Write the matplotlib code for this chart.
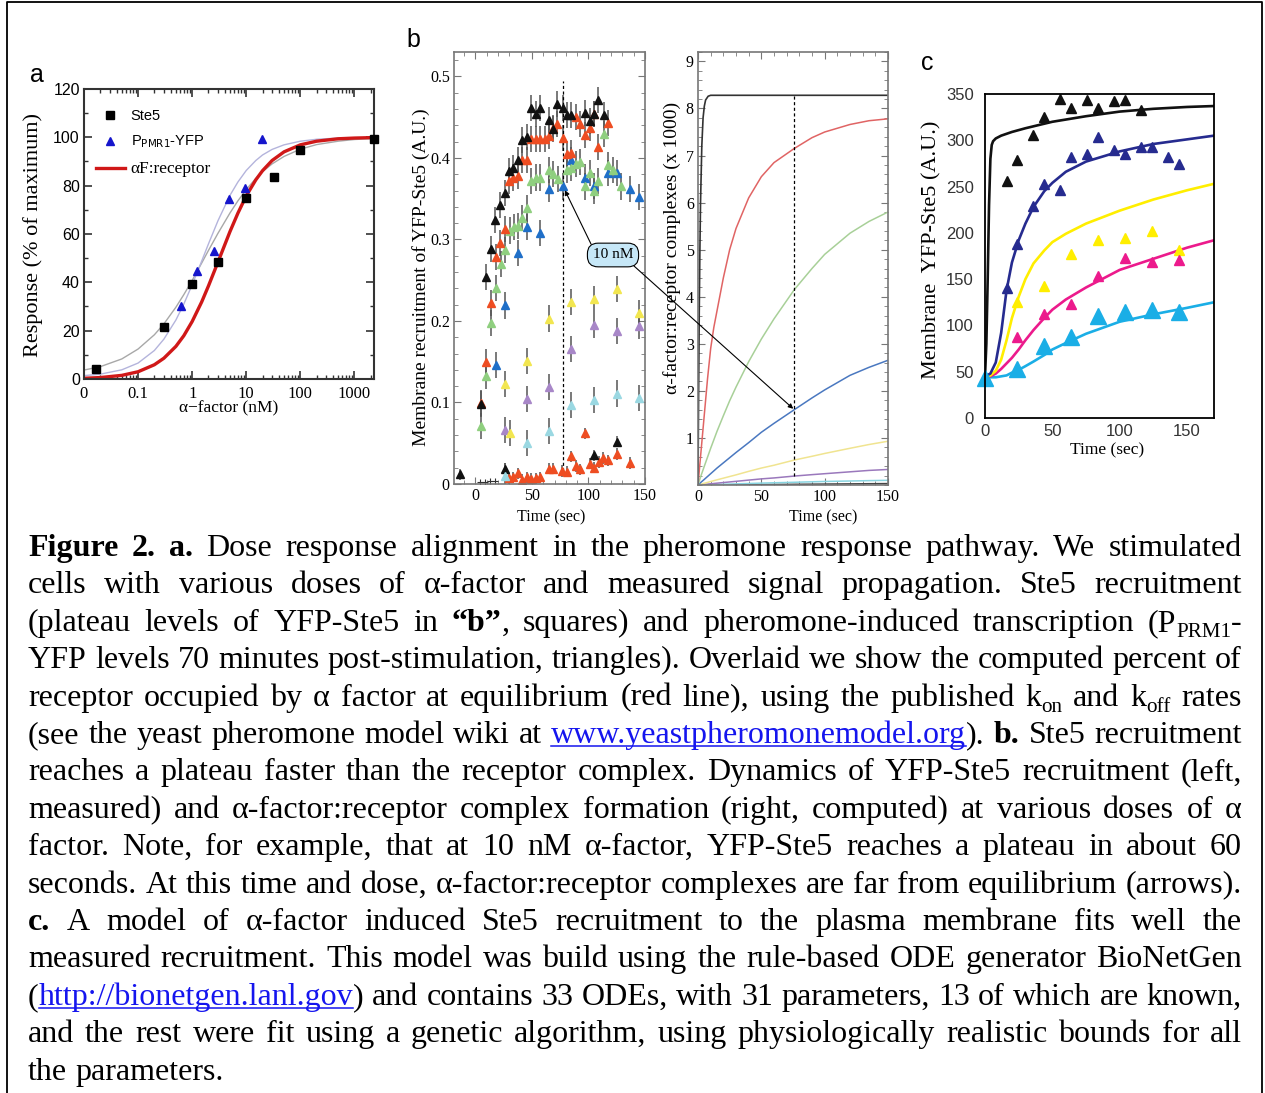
import re
import matplotlib
matplotlib.use("Agg")
import matplotlib.pyplot as plt
from matplotlib.lines import Line2D
from matplotlib.patches import ConnectionPatch
from matplotlib.transforms import IdentityTransform
from matplotlib.ticker import FixedLocator, MultipleLocator, LogLocator, NullFormatter

W, H = 1265, 1093
SERIF = "Liberation Serif"
SANS = "Liberation Sans"

# ---------------- panel a: dose response ----------------
ste5_dose = [0.0165, 0.3, 1.0, 3.0, 10, 32, 97, 2300]
ste5_resp = [4.1, 21.6, 39.3, 48.3, 74.8, 83.7, 94.6, 99.3]
prm1_dose = [0.63, 1.25, 2.5, 4.8, 9.6, 19.5]
prm1_resp = [30.2, 44.7, 53.1, 74.3, 79.0, 99.4]

fit_dose = [0.01, 0.02, 0.05, 0.1, 0.2, 0.3, 0.5, 0.7, 1, 1.5, 2, 3, 5, 7,
            10, 15, 20, 30, 50, 100, 200, 500, 1000, 2300]
receptor_fit = [0.3, 0.6, 1.5, 3.0, 5.9, 8.6, 13.5, 17.9, 23.8, 31.9, 38.5, 48.4,
                61.0, 68.6, 75.8, 82.4, 86.2, 90.4, 94.0, 96.9, 98.4, 99.4, 99.7, 99.9]
ste5_fit = [3.7, 5.1, 8.3, 12.4, 18.3, 22.8, 29.7, 34.9, 40.8, 48.0, 53.2, 60.3,
            68.7, 73.7, 78.4, 83.0, 85.8, 89.0, 92.1, 95.1, 97.0, 98.4, 99.1, 99.5]
prm1_fit = [1.4, 2.0, 3.8, 6.6, 11.8, 16.5, 24.4, 31.0, 39.0, 48.8, 55.9, 65.5,
            76.0, 81.5, 86.3, 90.4, 92.7, 95.0, 96.9, 98.4, 99.2, 99.7, 99.8, 99.9]

# ---------------- panel b left: measured YFP-Ste5 recruitment ----------------
rec_black_t = [5.0, 9.5, 13.9, 17.2, 21.6, 25.7, 29.6, 33.4, 37.6, 41.4, 45.3, 48.8, 53.3,
               57.1, 65.1, 68.9, 72.5, 77.8, 80.8, 84.9, 96.7, 100.9, 105, 108.6, 113.3]
rec_black_y = [0.098, 0.254, 0.288, 0.324, 0.342, 0.357, 0.384, 0.388, 0.398, 0.422, 0.426,
               0.461, 0.454, 0.461, 0.446, 0.435, 0.466, 0.461, 0.453, 0.453, 0.455,
               0.445, 0.454, 0.471, 0.453]
rec_red_t = [5.0, 9.5, 13.3, 17.8, 21.6, 25.7, 29.6, 33.4, 37.6, 41.4, 45.3, 49.4, 53.3,
             57.1, 61.2, 65.1, 68.9, 71.9, 77.5, 80.8, 84.9, 88.8, 92.6, 96.7, 100.9,
             105, 108.6, 116.9]
rec_red_y = [0.099, 0.150, 0.222, 0.279, 0.296, 0.313, 0.372, 0.376, 0.378, 0.397, 0.397,
             0.423, 0.423, 0.423, 0.423, 0.427, 0.437, 0.442, 0.425, 0.405, 0.406, 0.450,
             0.442, 0.428, 0.437, 0.454, 0.413, 0.443]
rec_green_t = [5.0, 9.5, 13.9, 17.8, 22.2, 25.7, 30.2, 34.0, 37.6, 41.4, 45.3, 48.8, 53.3,
               57.1, 65.1, 68.9, 73.1, 80.8, 84.9, 88.8, 92.6, 96.7, 100.9, 105, 108.6,
               113.3, 116.9, 121.3, 128.7]
rec_green_y = [0.071, 0.132, 0.197, 0.241, 0.270, 0.287, 0.311, 0.315, 0.316, 0.326, 0.338,
               0.372, 0.376, 0.376, 0.385, 0.380, 0.374, 0.385, 0.388, 0.393, 0.395, 0.365,
               0.381, 0.360, 0.372, 0.429, 0.391, 0.385, 0.365]
rec_blue_t = [17.8, 25.7, 37.6, 45.3, 57.1, 65.1, 77.5, 84.9, 96.7, 105, 116.9, 124.9, 136.7, 145]
rec_blue_y = [0.146, 0.219, 0.283, 0.315, 0.308, 0.362, 0.365, 0.397, 0.376, 0.366, 0.381,
              0.381, 0.362, 0.352]
rec_yellow_t = [25.7, 30.2, 45.3, 65.1, 84.9, 105, 124.9, 145]
rec_yellow_y = [0.123, 0.063, 0.151, 0.203, 0.223, 0.227, 0.239, 0.210]
rec_purple_t = [25.7, 45.3, 65.1, 84.9, 105, 124.9, 145]
rec_purple_y = [0.066, 0.104, 0.119, 0.166, 0.195, 0.188, 0.194]
rec_cyan_t = [25.7, 45.3, 65.1, 84.9, 105, 124.9, 145]
rec_cyan_y = [0.010, 0.050, 0.065, 0.097, 0.103, 0.111, 0.105]
rec_lowred_t = [29.6, 33.4, 37.6, 41.4, 45.3, 49.4, 53.3, 57.1, 65.1, 68.9, 76.9, 80.8,
                84.9, 88.8, 92.6, 96.7, 100.9, 105, 108.9, 113, 116.9, 124.9, 136.7]
rec_lowred_y = [0.007, 0.008, 0.013, 0.005, 0.008, 0.006, 0.007, 0.008, 0.019, 0.019, 0.016,
                0.015, 0.034, 0.022, 0.018, 0.062, 0.025, 0.020, 0.027, 0.032, 0.029,
                0.037, 0.026]
rec_lowblack_t = [-13.9, 25.7, 105, 124.9]
rec_lowblack_y = [0.012, 0.019, 0.035, 0.052]
rec_tiny_t = [4, 8.5, 12.5, 17]
rec_tiny_y = [0.003, 0.003, 0.004, 0.004]
rec_err = 0.016
rec_err_low = 0.007
marker_time_left = 77.5

# ---------------- panel b right: computed complexes (x 1000) ----------------
cplx_black_t = [0, 0.5, 1, 1.5, 2, 3, 4, 5, 6, 8, 10, 150]
cplx_black_y = [0, 2.0, 3.7, 5.0, 6.0, 7.2, 7.8, 8.05, 8.18, 8.26, 8.28, 8.28]
cplx_t = [0, 2, 5, 7.5, 10, 12.5, 15, 20, 25, 30, 40, 50, 60, 76, 90, 100, 120, 135, 150]
cplx_red = [0, 0.6, 1.5, 2.25, 2.9, 3.35, 3.7, 4.4, 5.0, 5.45, 6.1, 6.55, 6.85, 7.15,
            7.38, 7.5, 7.66, 7.74, 7.78]
cplx_green = [0, 0.17, 0.4, 0.59, 0.78, 0.96, 1.14, 1.47, 1.79, 2.08, 2.62, 3.1, 3.53,
              4.15, 4.6, 4.9, 5.35, 5.6, 5.8]
cplx_blue = [0, 0.05, 0.12, 0.18, 0.24, 0.30, 0.36, 0.47, 0.58, 0.69, 0.9, 1.12, 1.31,
             1.6, 1.85, 2.02, 2.33, 2.5, 2.65]
cplx_yellow = [0, 0.015, 0.037, 0.055, 0.074, 0.092, 0.11, 0.145, 0.18, 0.215, 0.29, 0.36,
               0.42, 0.53, 0.61, 0.67, 0.78, 0.86, 0.93]
cplx_purple = [0, 0.005, 0.013, 0.019, 0.026, 0.032, 0.039, 0.052, 0.065, 0.078, 0.104,
               0.13, 0.15, 0.19, 0.22, 0.24, 0.28, 0.31, 0.33]
cplx_cyan = [0, 0.002, 0.004, 0.006, 0.008, 0.01, 0.012, 0.016, 0.02, 0.024, 0.032, 0.04,
             0.047, 0.058, 0.068, 0.075, 0.085, 0.093, 0.1]
cplx_dark = [0, 0.001, 0.001, 0.0015, 0.002, 0.0025, 0.003, 0.004, 0.005, 0.006, 0.008,
             0.01, 0.012, 0.015, 0.018, 0.02, 0.024, 0.027, 0.03]
marker_time_right = 76

# ---------------- panel c: model fit ----------------
fitc_black_t = [0, 1, 2, 3, 4, 5, 6, 8, 12, 20, 30, 50, 75, 100, 125, 150, 170]
fitc_black = [45, 80, 150, 230, 280, 295, 299, 302, 305, 309, 313, 320, 326, 331, 334, 336, 337]
fitc_t = [0, 4, 8, 12, 16, 20, 25, 30, 36, 44, 50, 60, 75, 100, 125, 150, 170]
fitc_navy = [45, 48, 60, 92, 138, 168, 192, 210, 228, 245, 254, 266, 277, 288, 296, 301, 305]
fitc_yellow = [45, 46, 51, 63, 84, 108, 131, 150, 167, 181, 190, 199, 210, 224, 236, 246, 253]
fitc_magenta = [45, 45, 48, 53, 59, 65, 74, 84, 95, 108, 117, 128, 141, 160, 172, 184, 192]
fitc_cyan = [45, 44, 44, 45, 46, 49, 52, 56, 61, 68, 74, 81, 91, 104, 112, 119, 125]

obs_black_t = [16, 24, 36, 44, 56, 64, 76, 84, 96, 104, 116]
obs_black = [256, 279, 306, 325, 345, 335, 344, 335, 342, 344, 333]
obs_navy_t = [16, 24, 36, 44, 56, 64, 76, 84, 96, 104, 116, 124, 136, 144]
obs_navy = [140, 188, 229, 253, 246, 282, 285, 304, 290, 285, 293, 293, 282, 274]
obs_yellow_t = [23.5, 44, 64, 84, 104, 124, 144]
obs_yellow = [125, 143, 177, 192, 194, 202, 182]
obs_magenta_t = [24, 44, 64, 84, 104, 124, 144]
obs_magenta = [88, 112, 123, 153, 173, 169, 171]
obs_cyan_t = [0, 24, 44, 64, 84, 104, 124, 144]
obs_cyan = [43, 53, 78, 88, 110, 114, 117, 114]

# ---------------- caption ----------------
CAPTION_LINES = [
    "**Figure** **2.** **a.** Dose response alignment in the pheromone response pathway. We stimulated",
    "cells with various doses of \u03b1-factor and measured signal propagation. Ste5 recruitment",
    "(plateau levels of YFP-Ste5 in **\u201cb\u201d**, squares) and pheromone-induced transcription (P_{PRM1}-",
    "YFP levels 70 minutes post-stimulation, triangles). Overlaid we show the computed percent of",
    "receptor occupied by \u03b1 factor at equilibrium (red line), using the published k_{on} and k_{off} rates",
    "(see the yeast pheromone model wiki at [www.yeastpheromonemodel.org]). **b.** Ste5 recruitment",
    "reaches a plateau faster than the receptor complex. Dynamics of YFP-Ste5 recruitment (left,",
    "measured) and \u03b1-factor:receptor complex formation (right, computed) at various doses of \u03b1",
    "factor. Note, for example, that at 10 nM \u03b1-factor, YFP-Ste5 reaches a plateau in about 60",
    "seconds. At this time and dose, \u03b1-factor:receptor complexes are far from equilibrium (arrows).",
    "**c.** A model of \u03b1-factor induced Ste5 recruitment to the plasma membrane fits well the",
    "measured recruitment. This model was build using the rule-based ODE generator BioNetGen",
    "([http://bionetgen.lanl.gov]) and contains 33 ODEs, with 31 parameters, 13 of which are known,",
    "and the rest were fit using a genetic algorithm, using physiologically realistic bounds for all",
    "the parameters.",
]
CAP_SIZE = 23
CAP_LEFT, CAP_RIGHT = 28, 1242
CAP_BASE0, CAP_STEP = 556, 37.4
LINK = "#1515ee"


def px_axes(fig, left, top, right, bottom):
    return fig.add_axes([left / W, 1 - bottom / H, (right - left) / W, (bottom - top) / H])


def style(ax, color, lw):
    for sp in ax.spines.values():
        sp.set_color(color)
        sp.set_linewidth(lw)
    ax.tick_params(which="both", direction="in", top=True, right=True, color=color)


fig = plt.figure(figsize=(W / 100, H / 100), dpi=100)
fig.patch.set_facecolor("white")

# outer frame
fig.add_artist(Line2D([7, 7, 1262, 1262], [0, H - 2, H - 2, 0], transform=IdentityTransform(),
                      color="black", lw=1.3))

# ---------- panel a ----------
axa = px_axes(fig, 84, 89, 374, 379)
axa.set_xscale("log")
axa.plot(fit_dose, ste5_fit, color="#a8a8a8", lw=1.0)
axa.plot(fit_dose, prm1_fit, color="#b4b4dc", lw=1.0)
axa.plot(fit_dose, receptor_fit, color="#d01818", lw=2.4)
axa.plot(ste5_dose, ste5_resp, "s", color="black", ms=5.5, clip_on=False, zorder=5)
axa.plot(prm1_dose, prm1_resp, "^", color="#1515cc", ms=6, clip_on=False, zorder=5)
axa.set_xlim(0.01, 2300)
axa.set_ylim(0, 120)
axa.xaxis.set_major_locator(FixedLocator([0.01, 0.1, 1, 10, 100, 1000]))
axa.xaxis.set_minor_locator(LogLocator(subs=range(2, 10)))
axa.xaxis.set_minor_formatter(NullFormatter())
axa.set_xticklabels(["0", "0.1", "1", "10", "100", "1000"], family=SERIF, size=12)
axa.yaxis.set_major_locator(MultipleLocator(20))
axa.yaxis.set_minor_locator(MultipleLocator(10))
for lab in axa.get_yticklabels():
    lab.set_family(SANS)
    lab.set_size(11.5)
style(axa, "#333333", 1.5)
axa.tick_params(which="major", length=6, width=1.2)
axa.tick_params(which="minor", length=3, width=1.0)
axa.tick_params(axis="y", pad=3)
axa.tick_params(axis="x", pad=5)
handles = [Line2D([], [], ls="none", marker="s", color="black", ms=5.5),
           Line2D([], [], ls="none", marker="^", color="#1515cc", ms=6),
           Line2D([], [], color="#d01818", lw=2.4)]
leg = axa.legend(handles, ["Ste5", r"P$_{\rm PMR1}$-YFP", "\u03b1F:receptor"],
                 loc="upper left", bbox_to_anchor=(0.02, 0.952), frameon=False,
                 prop={"family": SANS, "size": 10.5}, handlelength=2.0,
                 handletextpad=0.4, labelspacing=0.75, borderaxespad=0)
leg.get_texts()[2].set_family(SERIF)
leg.get_texts()[2].set_size(12.5)
fig.text(33 / W, 1 - 235 / H, "Response (% of maximum)", rotation=90, family=SERIF,
         size=16, ha="center", va="center")
fig.text(229 / W, 1 - 408 / H, "\u03b1\u2212factor (nM)", family=SERIF, size=12.5,
         ha="center", va="center")
fig.text(37 / W, 1 - 75 / H, "a", family=SANS, size=18, ha="center", va="center")

# ---------- panel b left ----------
axb = px_axes(fig, 454, 52, 645, 484)
series = [
    (rec_lowred_t, rec_lowred_y, "#ee4d22", rec_err_low),
    (rec_lowblack_t, rec_lowblack_y, "#111111", rec_err_low),
    (rec_cyan_t, rec_cyan_y, "#9ad8e2", rec_err),
    (rec_purple_t, rec_purple_y, "#a887c8", rec_err),
    (rec_yellow_t, rec_yellow_y, "#f2e650", rec_err),
    (rec_blue_t, rec_blue_y, "#1f6fc8", rec_err),
    (rec_green_t, rec_green_y, "#8fcf7f", rec_err),
    (rec_red_t, rec_red_y, "#ee4d22", rec_err),
    (rec_black_t, rec_black_y, "#111111", rec_err),
]
axb.plot(rec_tiny_t, rec_tiny_y, "+", color="#333333", ms=4, mew=0.8)
for t, y, c, e in series:
    axb.errorbar(t, y, yerr=e, fmt="^", color=c, ms=6, mec=c, ecolor="#555555",
                 elinewidth=1.1, capsize=0)
axb.vlines(marker_time_left, 0.016, 0.494, colors="black", linestyles=(0, (2.5, 2)), lw=0.9)
axb.set_xlim(-19, 150)
axb.set_ylim(0, 0.53)
axb.xaxis.set_major_locator(MultipleLocator(50))
axb.xaxis.set_minor_locator(MultipleLocator(10))
axb.yaxis.set_major_locator(MultipleLocator(0.1))
axb.yaxis.set_minor_locator(MultipleLocator(0.02))
axb.set_yticks([0, 0.1, 0.2, 0.3, 0.4, 0.5])
axb.set_yticklabels(["0", "0.1", "0.2", "0.3", "0.4", "0.5"])
style(axb, "#777777", 1.2)
axb.tick_params(which="major", length=5, labelsize=11.5, pad=3)
axb.tick_params(which="minor", length=3)
for lab in axb.get_xticklabels() + axb.get_yticklabels():
    lab.set_family(SERIF)
fig.text(421 / W, 1 - 277 / H, "Membrane recruitment of YFP-Ste5 (A.U.)", rotation=90,
         family=SERIF, size=14, ha="center", va="center")
fig.text(551 / W, 1 - 517 / H, "Time (sec)", family=SERIF, size=11.5, ha="center", va="center")
fig.text(413 / W, 1 - 40 / H, "b", family=SANS, size=18, ha="center", va="center")

# ---------- panel b right ----------
axr = px_axes(fig, 698, 52, 888, 485)
axr.plot(cplx_t, cplx_dark, color="#444444", lw=1.1)
axr.plot(cplx_t, cplx_cyan, color="#88d4e0", lw=1.1)
axr.plot(cplx_t, cplx_purple, color="#9a78bc", lw=1.1)
axr.plot(cplx_t, cplx_yellow, color="#f0e490", lw=1.1)
axr.plot(cplx_t, cplx_blue, color="#4a78c0", lw=1.1)
axr.plot(cplx_t, cplx_green, color="#a8d098", lw=1.1)
axr.plot(cplx_t, cplx_red, color="#e06464", lw=1.1)
axr.plot(cplx_black_t, cplx_black_y, color="#333333", lw=1.2)
axr.vlines(marker_time_right, 0.19, 8.3, colors="black", linestyles=(0, (2.5, 2)), lw=0.9)
axr.set_xlim(0, 150)
axr.set_ylim(0, 9.2)
axr.xaxis.set_major_locator(MultipleLocator(50))
axr.xaxis.set_minor_locator(MultipleLocator(10))
axr.set_yticks(range(1, 10))
axr.yaxis.set_minor_locator(MultipleLocator(0.2))
style(axr, "#777777", 1.2)
axr.tick_params(which="major", length=5, labelsize=11.5, pad=3)
axr.tick_params(which="minor", length=3)
for lab in axr.get_xticklabels() + axr.get_yticklabels():
    lab.set_family(SERIF)
fig.text(672 / W, 1 - 248 / H, "\u03b1-factor:receptor complexes (x 1000)", rotation=90,
         family=SERIF, size=14, ha="center", va="center")
fig.text(823 / W, 1 - 517 / H, "Time (sec)", family=SERIF, size=11.5, ha="center", va="center")

# 10 nM callout with arrows
box_xy = (613 / W, 1 - 255 / H)
fig.add_artist(ConnectionPatch(xyA=(591 / W, 1 - 244 / H), coordsA=fig.transFigure,
                               xyB=(rec_blue_t[6], rec_blue_y[6]), coordsB=axb.transData,
                               arrowstyle="-|>", mutation_scale=7, lw=0.8, color="black",
                               shrinkA=0, shrinkB=3))
fig.add_artist(ConnectionPatch(xyA=(634 / W, 1 - 266 / H), coordsA=fig.transFigure,
                               xyB=(marker_time_right, cplx_blue[cplx_t.index(76)]),
                               coordsB=axr.transData,
                               arrowstyle="-|>", mutation_scale=7, lw=0.8, color="black",
                               shrinkA=0, shrinkB=1))
fig.text(box_xy[0], box_xy[1], "10 nM", family=SERIF, size=11, ha="center", va="center",
         zorder=10,
         bbox=dict(boxstyle="round,pad=0.35,rounding_size=0.7", fc="#c6e7f7", ec="black", lw=0.8))

# ---------- panel c ----------
axc = px_axes(fig, 985, 94, 1214, 418)
axc.plot(fitc_t, fitc_cyan, color="#1aaee6", lw=1.9)
axc.plot(fitc_t, fitc_magenta, color="#ec1a8c", lw=1.9)
axc.plot(fitc_t, fitc_yellow, color="#ffee00", lw=1.9)
axc.plot(fitc_t, fitc_navy, color="#262b8f", lw=1.9)
axc.plot(fitc_black_t, fitc_black, color="#111111", lw=1.9)
axc.plot(obs_black_t, obs_black, "^", color="#111111", ms=6.5, clip_on=False)
axc.plot(obs_navy_t, obs_navy, "^", color="#262b8f", ms=6.5, clip_on=False)
axc.plot(obs_yellow_t, obs_yellow, "^", color="#ffee00", ms=6.5, clip_on=False)
axc.plot(obs_magenta_t, obs_magenta, "^", color="#ec1a8c", ms=6.5, clip_on=False)
axc.plot(obs_cyan_t, obs_cyan, "^", color="#1aaee6", ms=11, clip_on=False)
axc.set_xlim(0, 170)
axc.set_ylim(0, 350)
axc.set_xticks([0, 50, 100, 150])
axc.set_yticks(range(0, 351, 50))
for sp in axc.spines.values():
    sp.set_linewidth(1.3)
axc.tick_params(length=0, labelsize=12, labelcolor="#333333")
axc.tick_params(axis="y", pad=8)
axc.tick_params(axis="x", pad=4)
for lab in axc.get_xticklabels() + axc.get_yticklabels():
    lab.set_family(SANS)
fig.text(932 / W, 1 - 250 / H, "Membrane  YFP-Ste5 (A.U.)", rotation=90, family=SERIF,
         size=16, ha="center", va="center")
fig.text(1107 / W, 1 - 450 / H, "Time (sec)", family=SERIF, size=12.5, ha="center", va="center")
fig.text(927 / W, 1 - 63 / H, "c", family=SANS, size=18, ha="center", va="center")

# ---------- caption (justified) ----------
renderer = fig.canvas.get_renderer()
token_re = re.compile(r"\*\*(.+?)\*\*|_\{(.+?)\}|\[(.+?)\]|([^*_\[\]]+)")


def parse_word(word):
    segs = []
    for b, s, l, n in token_re.findall(word):
        if b:
            segs.append(("b", b))
        elif s:
            segs.append(("sub", s))
        elif l:
            segs.append(("link", l))
        else:
            segs.append(("n", n))
    return segs


def make_seg(style_, s):
    kw = dict(family=SERIF, size=CAP_SIZE, color="black")
    dy = 0
    if style_ == "b":
        kw["weight"] = "bold"
    elif style_ == "sub":
        kw["size"] = CAP_SIZE * 0.66
        dy = -6
    elif style_ == "link":
        kw["color"] = LINK
    t = fig.text(0, 0, s, transform=IdentityTransform(), va="baseline", ha="left", **kw)
    w = t.get_window_extent(renderer).width
    return t, w, dy, style_


space_w = CAP_SIZE * 100 / 72 * 0.25
for i, line in enumerate(CAPTION_LINES):
    base = H - (CAP_BASE0 + i * CAP_STEP)
    words = []
    for word in line.split(" "):
        segs = [make_seg(st, s) for st, s in parse_word(word)]
        words.append(segs)
    widths = [sum(seg[1] for seg in segs) for segs in words]
    last = i == len(CAPTION_LINES) - 1
    if last or len(words) == 1:
        gap = space_w
    else:
        gap = (CAP_RIGHT - CAP_LEFT - sum(widths)) / (len(words) - 1)
    x = CAP_LEFT
    for segs, ww in zip(words, widths):
        xx = x
        for t, w, dy, st in segs:
            t.set_position((xx, base + dy))
            if st == "link":
                fig.add_artist(Line2D([xx, xx + w], [base - 3, base - 3],
                                      transform=IdentityTransform(), color=LINK, lw=1.1))
            xx += w
        x += ww + gap

fig.savefig("out.png", dpi=100)
